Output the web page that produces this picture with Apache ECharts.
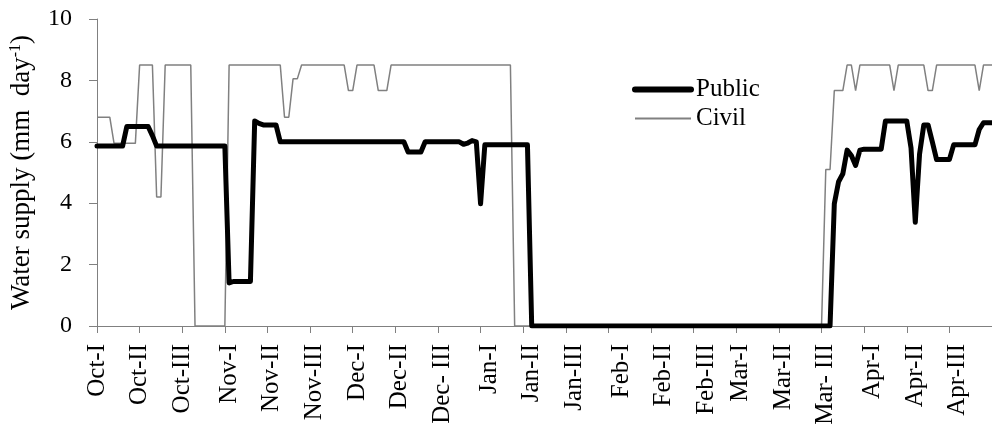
<!DOCTYPE html>
<html><head><meta charset="utf-8">
<script src="https://cdn.jsdelivr.net/npm/echarts@6/dist/echarts.min.js"></script>
<style>html,body{margin:0;padding:0;background:#fff}#c{width:992px;height:428px}</style>
</head><body><div id="c"></div>
<script>
// x axis: days since Oct 1; ticks every 10 days, labels at the start of each dekad
const tickDays = [0,10,20,30,40,50,60,70,80,90,100,110,120,130,140,150,160,170,180,190,200,210];
const labelDays = [0,10,20,31,41,51,61,71,81,92,102,112,123,133,143,151,161,171,182,192,202];
const labelNames = ['Oct-I','Oct-II','Oct-III','Nov-I','Nov-II','Nov-III','Dec-I','Dec-II','Dec- III','Jan-I','Jan-II','Jan-III','Feb-I','Feb-II','Feb-III','Mar-I','Mar-II','Mar- III','Apr-I','Apr-II','Apr-III'];
const yMin = 0, yMax = 10, yStep = 2;

// daily water supply (mm day-1), one row per dekad
const publicSupply = [
  5.86,5.86,5.86,5.86,5.86,5.86,5.86,6.5,6.5,6.5,
  6.5,6.5,6.5,6.2,5.86,5.86,5.86,5.86,5.86,5.86,
  5.86,5.86,5.86,5.86,5.86,5.86,5.86,5.86,5.86,5.86,
  5.86,1.4,1.45,1.45,1.45,1.45,1.45,6.68,6.6,6.55,
  6.55,6.55,6.55,6.0,6.0,6.0,6.0,6.0,6.0,6.0,
  6.0,6.0,6.0,6.0,6.0,6.0,6.0,6.0,6.0,6.0,
  6.0,6.0,6.0,6.0,6.0,6.0,6.0,6.0,6.0,6.0,
  6.0,6.0,6.0,5.67,5.67,5.67,5.67,6.0,6.0,6.0,
  6.0,6.0,6.0,6.0,6.0,6.0,5.92,5.96,6.04,6.0,
  3.98,5.9,5.9,5.9,5.9,5.9,5.9,5.9,5.9,5.9,
  5.9,5.9,0,0,0,0,0,0,0,0,
  0,0,0,0,0,0,0,0,0,0,
  0,0,0,0,0,0,0,0,0,0,
  0,0,0,0,0,0,0,0,0,0,
  0,0,0,0,0,0,0,0,0,0,
  0,0,0,0,0,0,0,0,0,0,
  0,0,0,0,0,0,0,0,0,0,
  0,0,0,3.98,4.7,4.96,5.73,5.55,5.23,5.73,
  5.76,5.76,5.76,5.76,5.76,6.68,6.68,6.68,6.68,6.68,
  6.68,5.8,3.38,5.6,6.55,6.55,6.0,5.42,5.42,5.42,
  5.42,5.9,5.9,5.9,5.9,5.9,5.9,6.4,6.62,6.62,
  6.62
];
const civilSupply = [
  6.8,6.8,6.8,6.8,5.95,5.95,5.95,5.95,5.95,5.95,
  8.5,8.5,8.5,8.5,4.2,4.2,8.5,8.5,8.5,8.5,
  8.5,8.5,8.5,0,0,0,0,0,0,0,
  0,8.5,8.5,8.5,8.5,8.5,8.5,8.5,8.5,8.5,
  8.5,8.5,8.5,8.5,6.8,6.8,8.05,8.05,8.5,8.5,
  8.5,8.5,8.5,8.5,8.5,8.5,8.5,8.5,8.5,7.67,
  7.67,8.5,8.5,8.5,8.5,8.5,7.67,7.67,7.67,8.5,
  8.5,8.5,8.5,8.5,8.5,8.5,8.5,8.5,8.5,8.5,
  8.5,8.5,8.5,8.5,8.5,8.5,8.5,8.5,8.5,8.5,
  8.5,8.5,8.5,8.5,8.5,8.5,8.5,8.5,0,0,
  0,0,0,0,0,0,0,0,0,0,
  0,0,0,0,0,0,0,0,0,0,
  0,0,0,0,0,0,0,0,0,0,
  0,0,0,0,0,0,0,0,0,0,
  0,0,0,0,0,0,0,0,0,0,
  0,0,0,0,0,0,0,0,0,0,
  0,0,0,0,0,0,0,0,0,0,
  0,5.1,5.1,7.67,7.67,7.67,8.5,8.5,7.67,8.5,
  8.5,8.5,8.5,8.5,8.5,8.5,8.5,7.67,8.5,8.5,
  8.5,8.5,8.5,8.5,8.5,7.67,7.67,8.5,8.5,8.5,
  8.5,8.5,8.5,8.5,8.5,8.5,8.5,7.67,8.5,8.5,
  8.5
];

const FONT = "'Liberation Serif', 'Times New Roman', serif";
const AXIS = '#808080';
const chart = echarts.init(document.getElementById('c'), null, {renderer: 'canvas'});
chart.setOption({
  animation: false,
  backgroundColor: '#fff',
  grid: {left: 97, right: 0, top: 19, bottom: 102},
  legend: {
    orient: 'vertical', left: 627, top: 72,
    itemWidth: 56, itemHeight: 14, itemGap: 4,
    data: [
      {name: 'Public', lineStyle: {width: 6, color: '#000', cap: 'round'}},
      {name: 'Civil', lineStyle: {width: 2, color: '#808080'}}
    ],
    itemStyle: {opacity: 0},
    textStyle: {fontFamily: FONT, fontSize: 25, color: '#000'}
  },
  xAxis: {
    type: 'value', min: tickDays[0], max: tickDays[tickDays.length - 1],
    axisLine: {show: true, lineStyle: {color: AXIS, width: 1}},
    axisTick: {show: true, customValues: tickDays, length: 7, lineStyle: {color: AXIS}},
    axisLabel: {
      customValues: labelDays, rotate: 90, margin: 18,
      fontFamily: FONT, fontSize: 25, color: '#000',
      formatter: v => { const k = labelDays.indexOf(v); return k >= 0 ? labelNames[k] : ''; }
    },
    splitLine: {show: false}
  },
  yAxis: {
    type: 'value', min: yMin, max: yMax, interval: yStep,
    name: 'Water supply (mm  day{sup|-1})',
    nameLocation: 'middle', nameGap: 62, nameRotate: 90,
    nameTextStyle: {
      fontFamily: FONT, fontSize: 27, color: '#000',
      rich: {sup: {fontFamily: FONT, fontSize: 16, color: '#000', verticalAlign: 'top', lineHeight: 27}}
    },
    axisLine: {show: true, lineStyle: {color: AXIS, width: 1}},
    axisTick: {show: true, length: 8, lineStyle: {color: AXIS}},
    axisLabel: {fontFamily: FONT, fontSize: 24, color: '#000', margin: 25},
    splitLine: {show: false}
  },
  series: [
    {
      name: 'Public', type: 'line', symbol: 'none', z: 3,
      data: publicSupply.map((v, i) => [i, v]),
      lineStyle: {color: '#000', width: 5, join: 'round', cap: 'round'},
      itemStyle: {color: '#000'}
    },
    {
      name: 'Civil', type: 'line', symbol: 'none', z: 2,
      data: civilSupply.map((v, i) => [i, v]),
      lineStyle: {color: '#808080', width: 1.5},
      itemStyle: {color: '#808080'}
    }
  ]
});
</script></body></html>
